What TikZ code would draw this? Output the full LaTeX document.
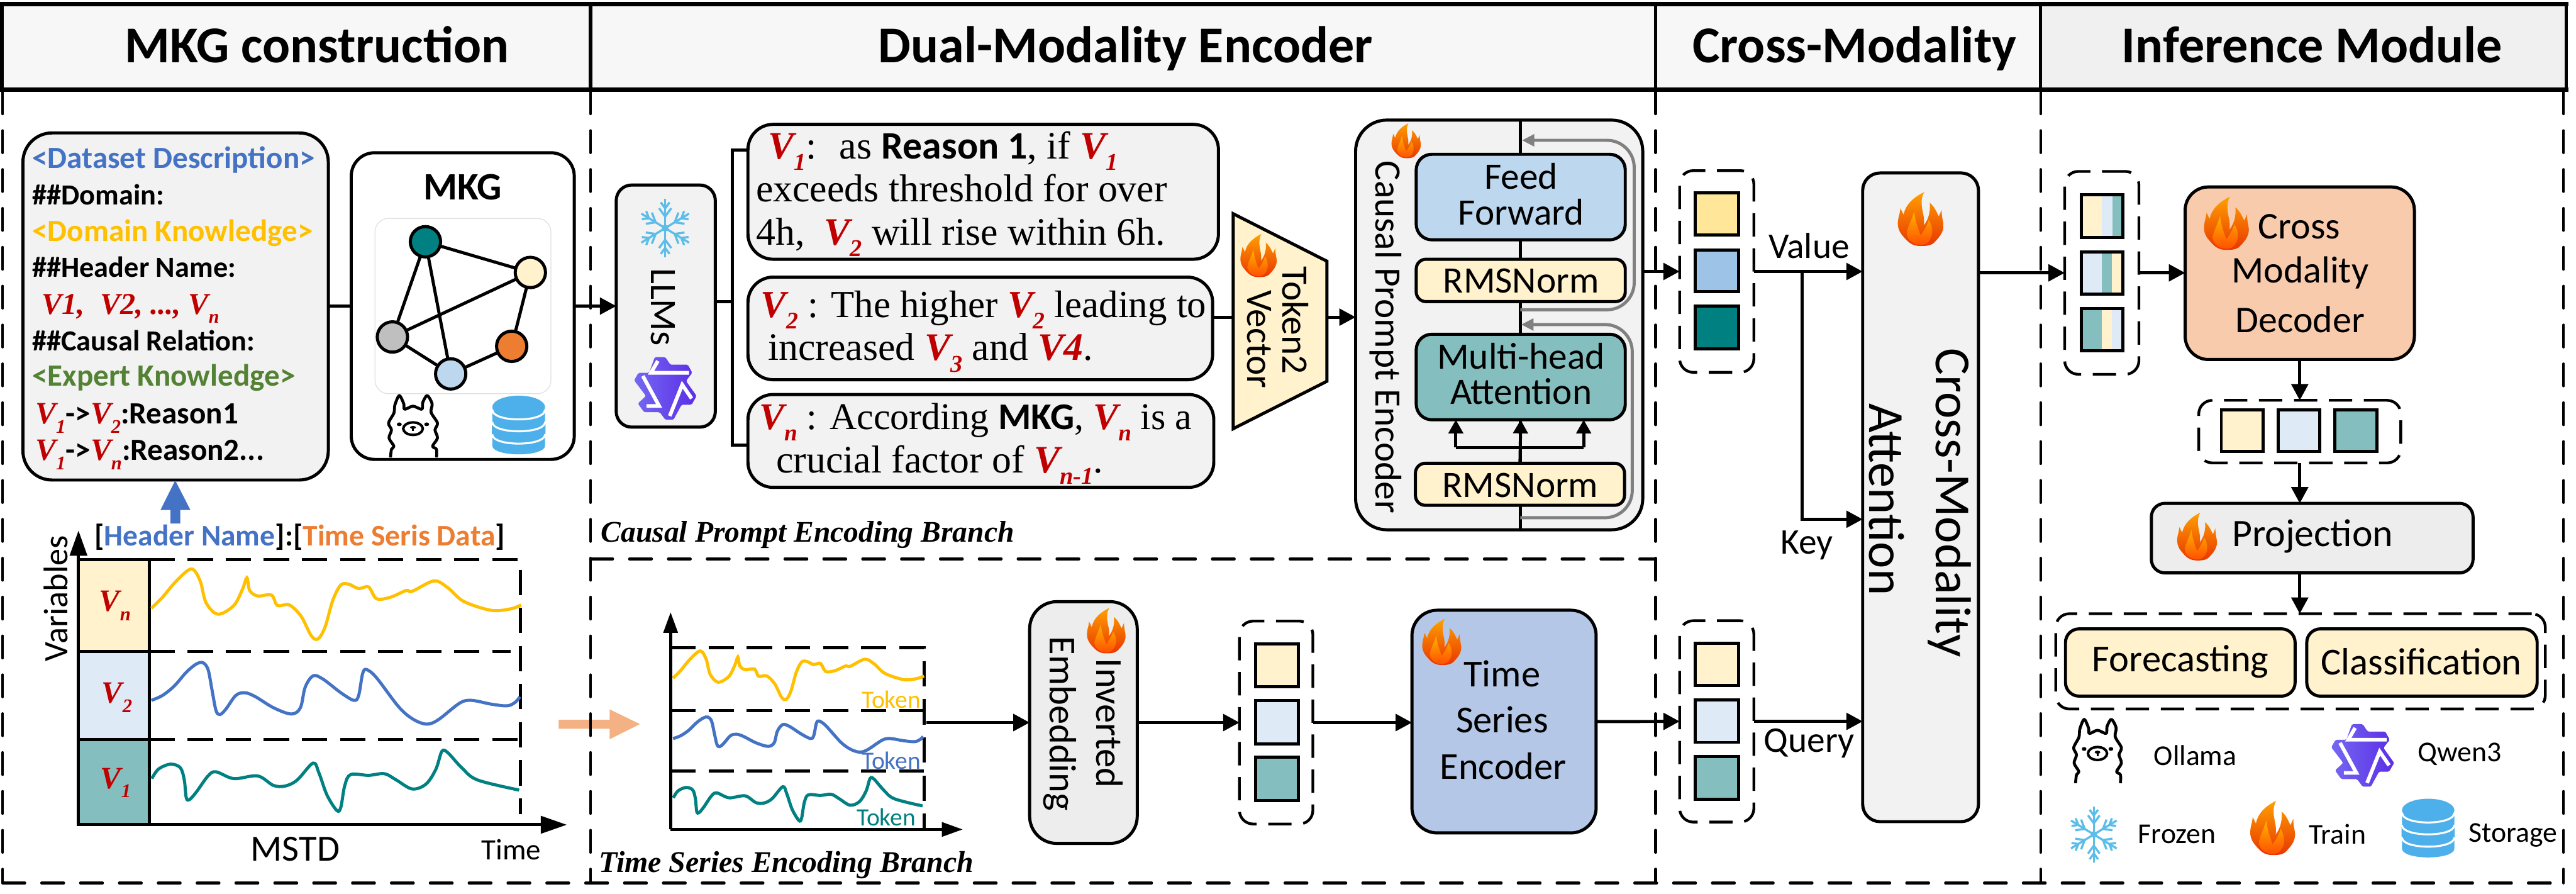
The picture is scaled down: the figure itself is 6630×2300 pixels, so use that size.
\documentclass[tikz,border=0pt]{standalone}
\usepackage{fontspec}
\setmainfont{Carlito}
\newfontfamily\tms{Liberation Serif}
\usetikzlibrary{arrows.meta,calc}
\definecolor{cream}{HTML}{FFF2CC}
\definecolor{lblue}{HTML}{DEEBF7}
\definecolor{ltealc}{HTML}{84BEBE}
\definecolor{tealc}{HTML}{008080}
\definecolor{gyf}{HTML}{F2F2F2}
\definecolor{gyh}{HTML}{F7F7F7}
\definecolor{gyk}{HTML}{F0F0F0}
\definecolor{gyg}{HTML}{EDEDED}
\definecolor{vred}{HTML}{C00000}
\definecolor{ffblue}{HTML}{BDD7EE}
\definecolor{tseblue}{HTML}{B4C7E7}
\definecolor{decor}{HTML}{F8CBAD}
\definecolor{ybr}{HTML}{FFE699}
\definecolor{mblue}{HTML}{9DC3E6}
\definecolor{hblue}{HTML}{4472C4}
\definecolor{horange}{HTML}{ED7D31}
\definecolor{hgold}{HTML}{FFC000}
\definecolor{hgreen}{HTML}{548235}
\definecolor{dbblue}{HTML}{4DB0EA}
\definecolor{snowc}{HTML}{5BBDE8}
\definecolor{gnode}{HTML}{BFBFBF}
\definecolor{peach}{HTML}{F4B183}
\newcommand\fp[1]{\fontsize{#1}{#1}\selectfont}
\newcommand\Vs[1]{{\tms\bfseries\itshape\color{vred}V\raisebox{-.3em}{\scalebox{.62}{#1}}}}
\newcommand\Vp[1]{{\tms\bfseries\itshape\color{vred}#1}}
% rbox: name x0 y0 x1 y1 options text
\newcommand\rbox[7]{%
  \pgfmathsetmacro\rw{(#4-#2)*0.2}\pgfmathsetmacro\rh{(#5-#3)*0.2}%
  \pgfmathsetmacro\rx{(#2+#4)/2}\pgfmathsetmacro\ry{(#3+#5)/2}%
  \node[#6,minimum width=\rw pt,minimum height=\rh pt] (#1) at (\rx,\ry) {#7};}
\newcommand\icon[5]{\begin{scope}[shift={(#1,#2)}]%
  \pgfmathsetmacro\sx{(#3-#1)*0.002}\pgfmathsetmacro\sy{(#4-#2)*0.002}%
  \begin{scope}[x=\sx pt,y=-\sy pt]#5\end{scope}\end{scope}}
\newcommand\flame[4]{\icon{#1}{#2}{#3}{#4}{%
  \shade[top color=FlameA,bottom color=FlameB] (50,100) .. controls (30,100) and (22,92) .. (10,80) .. controls (2,72) and (-1,62) .. (1,52) .. controls (2,45) and (5,40) .. (6,30) -- (13,42) .. controls (18,22) and (35,10) .. (58,0) .. controls (50,12) and (52,25) .. (55,38) .. controls (58,48) and (58,55) .. (57,62) .. controls (68,50) and (72,35) .. (70,20) .. controls (82,28) and (86,40) .. (90,45) -- (96,33) .. controls (96,48) and (100,55) .. (100,62) .. controls (100,75) and (90,85) .. (78,95) .. controls (70,100) and (60,100) .. (50,100) -- cycle;
  \shade[top color=FlameC,bottom color=FlameD] (50,98) .. controls (35,98) and (22,90) .. (20,78) .. controls (20,66) and (30,55) .. (36,36) .. controls (38,52) and (44,66) .. (50,80) .. controls (58,72) and (64,62) .. (68,52) .. controls (76,62) and (78,76) .. (72,86) .. controls (66,96) and (58,98) .. (50,98) -- cycle;}}
\definecolor{FlameA}{HTML}{FFA000}
\definecolor{FlameB}{HTML}{E83600}
\definecolor{FlameC}{HTML}{FFB400}
\definecolor{FlameD}{HTML}{FF5000}
\newcommand\snowi[4]{\icon{#1}{#2}{#3}{#4}{%
  \foreach \a in {30,90,150,210,270,330}{%
    \draw[snowc,line width=1.1pt] (50,50) -- ++(\a:50);
    \draw[snowc,line width=1.1pt] (50,50) ++(\a:20) -- ++(\a+38:18);
    \draw[snowc,line width=1.1pt] (50,50) ++(\a:20) -- ++(\a-38:18);
    \draw[snowc,line width=1.1pt] (50,50) ++(\a:34) -- ++(\a+38:13);
    \draw[snowc,line width=1.1pt] (50,50) ++(\a:34) -- ++(\a-38:13);}
  \fill[snowc] (50,50) ellipse [x radius=6,y radius=6];}}
\newcommand\qweni[4]{\icon{#1}{#2}{#3}{#4}{%
  \shade[left color=QA,right color=QB,rounded corners=.6pt] (33,0) -- (50,0) -- (58,12) -- (86,12) -- (93,25) -- (83,38) -- (100,62) -- (92,76) -- (76,76) -- (63,100) -- (50,100) -- (41,88) -- (16,88) -- (6,74) -- (19,62) -- (0,37) -- (7,25) -- (24,25) -- cycle;
  \draw[white,line width=1.9pt] (14,30) -- (40,78) -- (20,78);
  \draw[white,line width=1.9pt] (88,25) -- (27,25) -- (38,6);
  \draw[white,line width=1.9pt] (57,94) -- (77,44) -- (92,66);}}
\definecolor{QA}{HTML}{7468F2}
\definecolor{QB}{HTML}{5C2EE6}
\newcommand\dbi[4]{\icon{#1}{#2}{#3}{#4}{%
  \fill[dbblue] (0,67.5) .. controls (0,45) and (100,45) .. (100,67.5) -- (100,85) .. controls (100,105) and (0,105) .. (0,85) -- cycle;
  \draw[dbblue,fill=dbblue] (0,48) -- (100,48) -- (100,64) .. controls (100,84) and (0,84) .. (0,64) -- cycle;
  \draw[white,line width=1pt] (0,66) .. controls (0,87) and (100,87) .. (100,66);
  \fill[dbblue] (0,27) -- (100,27) -- (100,43) .. controls (100,63) and (0,63) .. (0,43) -- cycle;
  \draw[white,line width=1pt] (0,45) .. controls (0,66) and (100,66) .. (100,45);
  \fill[dbblue] (50,19.5) ellipse [x radius=50,y radius=19.5];
  \draw[white,line width=1pt] (0,24) .. controls (0,46) and (100,46) .. (100,24);}}
\newcommand\llamai[4]{\icon{#1}{#2}{#3}{#4}{%
  \draw[black,fill=white,line width=1.5pt,line join=round] plot[smooth,tension=.5] coordinates {(4,100)(6,87)(11,82)(1,69)(6,56)(0,45)(11,29)(13,16)(22,1)(31,14)(33,23)(50,18)(68,23)(70,12)(79,1)(89,14)(87,28)(100,45)(95,56)(100,69)(90,82)(98,87)(98,100)};
  \draw[black,line width=1.3pt] (50,54) ellipse [x radius=20,y radius=10];
  \fill[black] (22,47) ellipse [x radius=5,y radius=3];
  \fill[black] (78,47) ellipse [x radius=5,y radius=3];
  \fill[black] (50,52) ellipse [x radius=6,y radius=2.4];
  \draw[black,line width=.9pt] (50,53) -- (50,58);}}
\newcommand\cvA[1]{\draw[#1] plot[smooth,tension=.55] coordinates {(382,520)(410,480)(445,420)(483,376)(505,420)(520,500)(550,542)(590,510)(612,450)(623,408)(630,455)(650,475)(685,472)(700,510)(730,508)(760,550)(785,620)(802,633)(820,590)(840,490)(860,435)(880,432)(905,448)(930,442)(950,485)(985,480)(1025,455)(1040,458)(1095,420)(1130,445)(1170,495)(1240,528)(1290,522)(1315,508)};}
\newcommand\cvB[1]{\draw[#1] plot[smooth,tension=.55] coordinates {(382,858)(410,840)(440,805)(470,755)(495,725)(512,720)(525,745)(535,820)(545,895)(555,910)(570,890)(595,840)(618,830)(645,845)(690,885)(735,908)(758,885)(770,810)(790,768)(815,780)(860,830)(893,858)(905,840)(915,760)(925,745)(950,775)(1005,880)(1040,925)(1075,945)(1105,930)(1160,868)(1190,858)(1240,872)(1280,878)(1300,865)(1312,845)};}
\newcommand\cvC[1]{\draw[#1] plot[smooth,tension=.55] coordinates {(383,1145)(400,1110)(430,1092)(455,1105)(465,1150)(470,1215)(478,1222)(495,1195)(525,1135)(545,1120)(590,1145)(650,1135)(690,1170)(720,1172)(750,1150)(790,1088)(805,1125)(825,1205)(850,1262)(860,1250)(870,1170)(885,1130)(930,1133)(970,1127)(1000,1150)(1040,1183)(1075,1165)(1100,1110)(1115,1045)(1130,1050)(1165,1105)(1205,1150)(1310,1187)};}
\tikzset{
  x=0.2pt,y=-0.2pt,
  bx/.style={draw=black,line width=1.6pt,inner sep=0pt,outer sep=0pt},
  rb/.style={bx,rounded corners=#1},
  hdr/.style={inner sep=0pt,outer sep=0pt},
  hdl/.style={line width=2.4pt,line cap=rect},
  hdv/.style={line width=1.8pt},
  hdt/.style={anchor=base,inner sep=0pt,outer sep=0pt,font=\bfseries\fp{26.6}},
  dsh/.style={line width=1.4pt,line cap=round,dash pattern=on 11.4pt off 8.6pt},
  cdsh/.style={line width=1.6pt,dash pattern=on 13pt off 6.6pt},
  stackbox/.style={draw=black,line width=1.4pt,dash pattern=on 12pt off 6pt,rounded corners=7pt,inner sep=0pt,outer sep=0pt},
  arr/.style={line width=1.6pt,-{Triangle[length=8.4pt,width=8.6pt]}},
  con/.style={line width=1.6pt},
  skip/.style={draw=black!50,line width=1.6pt,rounded corners=14pt,-{Triangle[length=6.4pt,width=6pt]}},
  lbl/.style={inner sep=0pt,outer sep=0pt},
  lnA/.style={anchor=base west,inner sep=0pt,font=\bfseries\fp{15}},
  lnC/.style={anchor=base west,inner sep=0pt,font=\bfseries\fp{15.9}},
  lnT/.style={anchor=base west,inner sep=0pt,font=\tms\fp{20}},
  gn/.style={circle,draw=black,line width=1.6pt,minimum size=15.6pt,inner sep=0pt,outer sep=0pt},
  cellb/.style={draw=black,line width=1.6pt,inner sep=0pt,outer sep=0pt},
}
\begin{document}
\begin{tikzpicture}
\useasboundingbox (0,0) rectangle (6630,2300);
\fill[white] (0,0) rectangle (6630,2300);

% orange arrow (below dashed frame)
\fill[peach] (1438,1852) -- (1569,1852) -- (1569,1825) -- (1647,1863) -- (1569,1902) -- (1569,1875) -- (1438,1875) -- cycle;

% header
\rbox{h1}{5}{11}{1520}{231}{hdr,fill=gyh}{}
\rbox{h2}{1520}{11}{4261}{231}{hdr,fill=gyh}{}
\rbox{h3}{4261}{11}{5252}{231}{hdr,fill=gyh}{}
\rbox{h4}{5252}{11}{6605}{231}{hdr,fill=gyk}{}
\draw[hdv] (h1.north west) -- (h1.south west);
\draw[hdv] (h1.north east) -- (h1.south east);
\draw[hdv] (h2.north east) -- (h2.south east);
\draw[hdv] (h3.north east) -- (h3.south east);
\draw[hdv] (h4.north east) -- (h4.south east);
\draw[hdl] (h1.north west) -- (h4.north east);
\draw[hdl] (h1.south west) -- (h4.south east);
\node[hdt] (h1t) at (816,161) {MKG construction};
\node[hdt] (h2t) at (2897,161) {Dual-Modality Encoder};
\node[hdt] (h3t) at (4773,161) {Cross-Modality};
\node[hdt] (h4t) at (5951,161) {Inference Module};

% frame dashes
\coordinate (f1t) at (7,236); \coordinate (f1b) at (7,2272);
\coordinate (f2t) at (1520,236); \coordinate (f2b) at (1520,2272);
\coordinate (f3t) at (4261,236); \coordinate (f3b) at (4261,2272);
\coordinate (f4t) at (5252,236); \coordinate (f4b) at (5252,2272);
\coordinate (f5t) at (6598,236); \coordinate (f5b) at (6598,2272);
\coordinate (fml) at (1520,1438); \coordinate (fmr) at (4261,1438);
\draw[dsh] (f1t) -- (f1b);
\draw[dsh] (f2t) -- (f2b);
\draw[dsh] (f3t) -- (f3b);
\draw[dsh] (f4t) -- (f4b);
\draw[dsh] (f5t) -- (f5b);
\draw[dsh] (f1b) -- (f5b);
\draw[dsh] (fml) -- (fmr);

% MKG text box
\rbox{prm}{59}{342}{845}{1235}{rb=15pt,fill=gyf}{}
\node[lnC,hblue] (p1) at (82,433) {<Dataset Description>};
\node[lnA] (p2) at (82,527) {\#\#Domain:};
\node[lnC,hgold] (p3) at (82,620) {<Domain Knowledge>};
\node[lnA] (p4) at (82,713) {\#\#Header Name:};
\node[lnA,font=\tms\bfseries\itshape\fp{15.6},vred] (p5) at (107,808) {V1, \ V2, ..., V\raisebox{-.3em}{\scalebox{.62}{n}}};
\node[lnA] (p6) at (82,902) {\#\#Causal Relation:};
\node[lnC,hgreen] (p7) at (82,993) {<Expert Knowledge>};
\node[lnC] (p8) at (90,1090) {{\fp{16}\Vs{1}}->{\fp{16}\Vs{2}}:Reason1};
\node[lnC] (p9) at (90,1184) {{\fp{16}\Vs{1}}->{\fp{16}\Vs{n}}:Reason2...};

% MKG box
\rbox{mkg}{904}{393}{1478}{1182}{rb=12pt,fill=white}{}
\node[lbl,font=\bfseries\fp{20}] (mkgt) at (1191,481) {MKG};
\rbox{mkgi}{965}{562}{1418}{1013}{draw=black!12,line width=.4pt,rounded corners=7pt,inner sep=0pt,outer sep=0pt}{}
\node[gn,fill=tealc] (n1) at (1095,622) {};
\node[gn,fill=cream] (n2) at (1365,701) {};
\node[gn,fill=gnode] (n3) at (1010,867) {};
\node[gn,fill=horange] (n4) at (1317,891) {};
\node[gn,fill=ffblue] (n5) at (1160,962) {};
\draw[con] (n1) -- (n2);
\draw[con] (n1) -- (n3);
\draw[con] (n1) -- (n5);
\draw[con] (n2) -- (n3);
\draw[con] (n2) -- (n4);
\draw[con] (n3) -- (n5);
\draw[con] (n5) -- (n4);
\llamai{1000}{1016}{1126}{1177}
\dbi{1267}{1018}{1403}{1169}
\draw[con] (prm.east |- mkg.west) -- (mkg.west);

% blue up arrow
\fill[hblue] (439,1347) -- (439,1312) -- (413,1312) -- (451,1236) -- (490,1312) -- (464,1312) -- (464,1347) -- cycle;
\node[lbl,anchor=base west,font=\bfseries\fp{15.4}] (hdrtxt) at (243,1404) {[{\color{hblue}Header Name}]:[{\color{horange}Time Seris Data}]};

% MSTD chart
\rbox{cvn}{202}{1440}{385}{1676}{cellb,fill=cream}{}
\rbox{cv2}{202}{1676}{385}{1903}{cellb,fill=lblue}{}
\rbox{cv1}{202}{1903}{385}{2122}{cellb,fill=ltealc}{}
\node[lbl,font=\fp{16}] (lvn) at (296,1558) {\Vs{n}};
\node[lbl,font=\fp{16}] (lv2) at (301,1795) {\Vs{2}};
\node[lbl,font=\fp{16}] (lv1) at (298,2014) {\Vs{1}};
\coordinate (ct1) at (385,1440); \coordinate (ct2) at (1339,1440); \coordinate (ct3) at (1339,2094);
\coordinate (cm1) at (385,1676); \coordinate (cm2) at (1315,1676);
\coordinate (cn1) at (385,1903); \coordinate (cn2) at (1339,1903);
\draw[cdsh] (ct1) -- (ct2) -- (ct3);
\draw[cdsh] (cm1) -- (cm2);
\draw[cdsh] (cn1) -- (cn2);
\begin{scope}[shift={(0,1200)}]\begin{scope}[x=.204pt,y=-.1403pt]
\cvA{hgold,line width=1.6pt}
\cvB{hblue,line width=1.6pt}
\cvC{tealc,line width=1.6pt}
\end{scope}\end{scope}
\coordinate (a0) at (202,2122); \coordinate (ay) at (202,1365); \coordinate (ax) at (1459,2122);
\draw[line width=1.6pt,-{Triangle[length=13pt,width=8.8pt]}] (a0) -- (ay);
\draw[line width=1.6pt,-{Triangle[length=13.4pt,width=8.8pt]}] (a0) -- (ax);
\node[lbl,rotate=90,font=\fp{17.6}] (varl) at (143,1540) {Variables};
\node[lbl,font=\fp{19}] (mstd) at (760,2184) {MSTD};
\node[lbl,font=\fp{15.2}] (timel) at (1316,2186) {Time};

% LLM
\rbox{llm}{1586}{476}{1841}{1099}{rb=8pt,fill=gyf}{}
\snowi{1641}{512}{1783}{662}
\node[lbl,rotate=-90,font=\fp{19.2}] (llmt) at (1707,790) {LLMs};
\qweni{1632}{919}{1793}{1080}
\draw[arr] (mkg.east) -- (llm.west);
\rbox{b1}{1925}{320}{3136}{667}{rb=13pt,fill=gyf}{}
\rbox{b2}{1925}{713}{3121}{977}{rb=13pt,fill=gyf}{}
\rbox{b3}{1925}{1015}{3124}{1254}{rb=13pt,fill=gyf}{}
\coordinate (fk) at (1885,776); \coordinate (fkT) at (1885,386); \coordinate (fkB) at (1885,1145);
\draw[con] (llm.east |- fk) -- (fk);
\draw[con] (b1.west |- fkT) -- (fkT) -- (fkB) -- (b3.west |- fkB);
\node[lnT] (t1a) at (1976,408) {\Vs{1}: \ as {\rmfamily\bfseries Reason 1}, if \Vs{1}};
\node[lnT] (t1b) at (1945,519) {exceeds threshold for over};
\node[lnT] (t1c) at (1945,630) {4h, \ \Vs{2} will rise within 6h.};
\node[lnT,font=\tms\fp{19.7}] (t2a) at (1957,816) {\Vs{2} : The higher \Vs{2} leading to};
\node[lnT] (t2b) at (1976,927) {increased \Vs{3} and \Vp{V4}.};
\node[lnT,font=\tms\fp{19.4}] (t3a) at (1953,1105) {\Vs{n} : According {\rmfamily\bfseries MKG}, \Vs{n} is a};
\node[lnT] (t3b) at (1997,1216) {crucial factor of \Vs{n-1}.};
\node[lnT,font=\tms\bfseries\itshape\fp{15.4}] (brA) at (1546,1394) {Causal Prompt Encoding Branch};
\node[lnT,font=\tms\bfseries\itshape\fp{15.5}] (brB) at (1541,2244) {Time Series Encoding Branch};

% Token2Vector
\coordinate (tr1) at (3174,550); \coordinate (tr2) at (3415,672); \coordinate (tr3) at (3415,981); \coordinate (tr4) at (3174,1103);
\draw[line width=1.6pt,fill=cream,line join=miter] (tr1) -- (tr2) -- (tr3) -- (tr4) -- cycle;
\coordinate (trL) at (3174,816); \coordinate (trR) at (3415,816);
\draw[con] (b2.east |- trL) -- (trL);
\node[lbl,rotate=-90,font=\fp{19.2}] (tok2) at (3335,824) {Token2};
\node[lbl,rotate=-90,font=\fp{19.2}] (vec) at (3241,873) {Vector};
\flame{3192}{602}{3286}{713}

% Causal prompt encoder
\rbox{cpe}{3489}{309}{4228}{1363}{rb=16pt,fill=gyf}{}
\draw[arr] (trR) -- (cpe.west |- trR);
\coordinate (vt) at (3913,309); \coordinate (vb) at (3913,1363);
\draw[con] (vt) -- (vb);
\coordinate (s1a) at (3913,797); \coordinate (s1b) at (4206,797); \coordinate (s1c) at (4206,361); \coordinate (s1d) at (3917,361);
\coordinate (s2a) at (3913,1332); \coordinate (s2b) at (4201,1332); \coordinate (s2c) at (4201,835); \coordinate (s2d) at (3915,835);
\draw[skip] (s1a) -- (s1b) -- (s1c) -- (s1d);
\draw[skip] (s2a) -- (s2b) -- (s2c) -- (s2d);
\rbox{ff}{3645}{397}{4183}{617}{rb=8pt,fill=ffblue}{}
\rbox{rn1}{3645}{667}{4183}{776}{rb=5pt,fill=cream}{}
\rbox{mh}{3645}{860}{4183}{1080}{rb=8pt,fill=ltealc}{}
\rbox{rn2}{3643}{1192}{4181}{1300}{rb=5pt,fill=cream}{}
\node[lbl,font=\fp{19.2}] (fft) at (3915,453) {Feed};
\node[lbl,font=\fp{19.2}] (fft2) at (3915,545) {Forward};
\node[lbl,font=\fp{19.2}] (rn1t) at (3915,722) {RMSNorm};
\node[lbl,font=\fp{19.2}] (mht) at (3915,916) {Multi-head};
\node[lbl,font=\fp{19.2}] (mht2) at (3915,1007) {Attention};
\node[lbl,font=\fp{19.2}] (rn2t) at (3913,1248) {RMSNorm};
\coordinate (sp) at (3913,1151); \coordinate (spL) at (3747,1151); \coordinate (spR) at (4076,1151);
\tikzset{smallarr/.style={line width=1.6pt,-{Triangle[length=7pt,width=7.4pt]}}}
\draw[con] (spL) -- (spR);
\draw[smallarr] (rn2.north) -- (mh.south);
\draw[smallarr] (spL) -- (spL |- mh.south);
\draw[smallarr] (spR) -- (spR |- mh.south);
\node[lbl,rotate=-90,font=\fp{19.2}] (cpet) at (3567,867) {Causal Prompt Encoder};
\flame{3581}{317}{3657}{407}

% stacks cross-modality
\rbox{st1}{4323}{439}{4514}{958}{stackbox}{}
\rbox{s1a}{4363}{496}{4474}{605}{cellb,fill=ybr}{}
\rbox{s1b}{4363}{643}{4474}{751}{cellb,fill=mblue}{}
\rbox{s1c}{4363}{788}{4474}{897}{cellb,fill=tealc}{}
\rbox{st2}{4323}{1597}{4514}{2115}{stackbox}{}
\rbox{s2a}{4363}{1655}{4474}{1764}{cellb,fill=cream}{}
\rbox{s2b}{4363}{1800}{4474}{1910}{cellb,fill=lblue}{}
\rbox{s2c}{4363}{1946}{4474}{2057}{cellb,fill=ltealc}{}
\draw[arr] (cpe.east |- st1.west) -- (st1.west);
\rbox{cma}{4794}{445}{5092}{2114}{rb=9pt,fill=gyf}{}
\draw[arr] (st1.east) -- (cma.west |- st1.east);
\coordinate (kb) at (4638,698); \coordinate (kt) at (4794,1336);
\draw[arr] (kb) |- (kt);
\draw[arr] (st2.east) -- (cma.west |- st2.east);
\node[lbl,font=\fp{18.6}] (valt) at (4656,633) {Value};
\node[lbl,font=\fp{18.6}] (keyt) at (4651,1403) {Key};
\node[lbl,font=\fp{18.6}] (qryt) at (4656,1912) {Query};
\node[lbl,rotate=-90,font=\fp{26}] (cmat) at (5017,1294) {Cross-Modality};
\node[lbl,rotate=-90,font=\fp{26}] (cmat2) at (4856,1285) {Attention};
\flame{4884}{494}{5002}{633}

% Inference
\rbox{st3}{5314}{441}{5505}{963}{stackbox}{}
\rbox{s3a}{5357}{501}{5464}{611}{cellb,fill=cream}{}
\rbox{s3b}{5357}{648}{5464}{757}{cellb,fill=lblue}{}
\rbox{s3c}{5357}{794}{5464}{902}{cellb,fill=ltealc}{}
\fill[lblue] (5410,505) rectangle (5437,607);
\fill[ltealc] (5437,505) rectangle (5460,607);
\fill[ltealc] (5410,652) rectangle (5436,753);
\fill[cream] (5436,652) rectangle (5460,753);
\fill[cream] (5410,798) rectangle (5436,898);
\fill[lblue] (5436,798) rectangle (5460,898);
\draw[arr] (cma.east |- st3.west) -- (st3.west);
\rbox{dec}{5624}{481}{6214}{925}{rb=12pt,fill=decor}{}
\draw[arr] (st3.east) -- (dec.west |- st3.east);
\node[lbl,font=\fp{19.4}] (dect1) at (5918,583) {Cross};
\node[lbl,font=\fp{19.4}] (dect2) at (5920,702) {Modality};
\node[lbl,font=\fp{19.4}] (dect3) at (5920,822) {Decoder};
\flame{5672}{506}{5788}{643}
\rbox{st4}{5659}{1030}{6179}{1191}{stackbox}{}
\rbox{s4a}{5717}{1055}{5825}{1162}{cellb,fill=cream}{}
\rbox{s4b}{5863}{1055}{5971}{1162}{cellb,fill=lblue}{}
\rbox{s4c}{6009}{1055}{6117}{1162}{cellb,fill=ltealc}{}
\draw[arr] (dec.south) -- (st4.north);
\rbox{proj}{5537}{1295}{6365}{1474}{rb=7pt,fill=gyg}{}
\draw[arr] (st4.south) -- (st4.south |- proj.north);
\node[lbl,font=\fp{20}] (projt) at (5952,1380) {Projection};
\flame{5603}{1319}{5706}{1442}
\rbox{st5}{5291}{1579}{6551}{1824}{stackbox}{}
\draw[arr] (st4.south |- proj.south) -- (st4.south |- st5.north);
\rbox{fc}{5316}{1618}{5907}{1791}{rb=7pt,fill=cream}{}
\rbox{cl}{5937}{1618}{6530}{1791}{rb=7pt,fill=cream}{}
\node[lbl,font=\fp{19.6}] (fct) at (5612,1702) {Forecasting};
\node[lbl,font=\fp{19.6}] (clt) at (6232,1702) {Classification};

% legend
\llamai{5337}{1849}{5460}{2015}
\node[lbl,font=\fp{14.8}] (lg1) at (5650,1943) {Ollama};
\qweni{6000}{1863}{6162}{2024}
\node[lbl,font=\fp{14.8}] (lg2) at (6331,1941) {Qwen3};
\snowi{5321}{2075}{5457}{2219}
\node[lbl,font=\fp{14.8}] (lg3) at (5603,2147) {Frozen};
\flame{5791}{2060}{5907}{2200}
\node[lbl,font=\fp{14.8}] (lg4) at (6016,2147) {Train};
\dbi{6182}{2055}{6317}{2206}
\node[lbl,font=\fp{14.8}] (lg5) at (6468,2149) {Storage};

% time series chart
\node[lbl,font=\fp{12.8},hgold] (tk1) at (2294,1799) {Token};
\node[lbl,font=\fp{12.8},hblue] (tk2) at (2294,1957) {Token};
\node[lbl,font=\fp{12.8},tealc] (tk3) at (2281,2103) {Token};
\coordinate (d1) at (1726,1667); \coordinate (d2) at (2378,1667); \coordinate (d3) at (2378,2134);
\coordinate (d4) at (1726,1828); \coordinate (d5) at (2378,1828);
\coordinate (d6) at (1726,1984); \coordinate (d7) at (2378,1984);
\draw[cdsh] (d1) -- (d2) -- (d3);
\draw[cdsh] (d4) -- (d5);
\draw[cdsh] (d6) -- (d7);
\begin{scope}[shift={(1468,1492)}]\begin{scope}[x=.1384pt,y=-.0972pt]\cvA{hgold,line width=1.6pt}\end{scope}\end{scope}
\begin{scope}[shift={(1468,1557)}]\begin{scope}[x=.1384pt,y=-.08pt]\cvB{hblue,line width=1.6pt}\end{scope}\end{scope}
\begin{scope}[shift={(1468,1480)}]\begin{scope}[x=.1384pt,y=-.1pt]\cvC{tealc,line width=1.6pt}\end{scope}\end{scope}
\coordinate (e0) at (1726,2134); \coordinate (ey) at (1726,1575); \coordinate (ex) at (2478,2134);
\draw[line width=1.6pt,-{Triangle[length=10.6pt,width=7.2pt]}] (e0) -- (ey);
\draw[line width=1.6pt,-{Triangle[length=10.8pt,width=7.2pt]}] (e0) -- (ex);
\coordinate (c2o) at (2384,1859);
\rbox{inv}{2650}{1548}{2927}{2170}{rb=14pt,fill=gyg}{}
\draw[arr] (c2o) -- (inv.west);
\node[lbl,rotate=-90,font=\fp{19.6}] (invt) at (2855,1861) {Inverted};
\node[lbl,rotate=-90,font=\fp{19.6}] (embt) at (2728,1862) {Embedding};
\flame{2797}{1564}{2897}{1681}
\rbox{st6}{3190}{1598}{3379}{2120}{stackbox}{}
\rbox{s6a}{3231}{1657}{3341}{1767}{cellb,fill=cream}{}
\rbox{s6b}{3231}{1802}{3341}{1914}{cellb,fill=lblue}{}
\rbox{s6c}{3231}{1948}{3341}{2060}{cellb,fill=ltealc}{}
\draw[arr] (inv.east) -- (st6.west);
\rbox{tse}{3634}{1570}{4108}{2143}{rb=13pt,fill=tseblue}{}
\draw[arr] (st6.east) -- (tse.west |- st6.east);
\draw[arr] (tse.east) -- (st2.west);
\node[lbl,font=\fp{19.6}] (tset1) at (3866,1734) {Time};
\node[lbl,font=\fp{19.6}] (tset2) at (3866,1852) {Series};
\node[lbl,font=\fp{19.6}] (tset3) at (3869,1971) {Encoder};
\flame{3660}{1592}{3761}{1711}
\end{tikzpicture}
\end{document}
